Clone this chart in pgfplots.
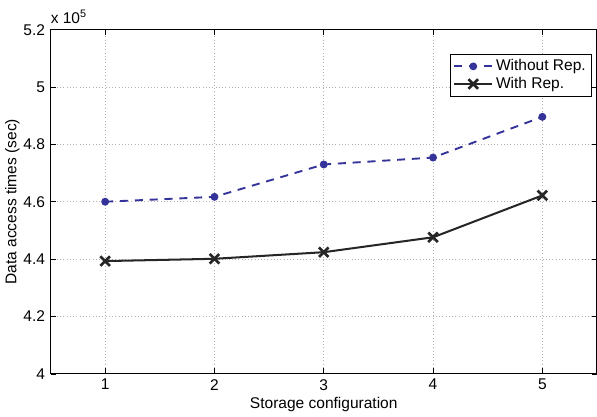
\documentclass[border=0pt]{standalone}
\usepackage{pgfplots}
\pgfplotsset{compat=1.18}
\usepackage{fontspec}
\setmainfont{Liberation Sans}
\definecolor{matblue}{RGB}{51,51,153}
\begin{document}
\fontsize{11.5}{13}\selectfont
\begin{tikzpicture}[trim axis right]
\begin{axis}[
    name=ax,
    scale only axis,
    width=405pt,
    height=255pt,
    xmin=0.5, xmax=5.5,
    ymin=4, ymax=5.2,
    xtick={1,2,3,4,5},
    ytick={4,4.2,4.4,4.6,4.8,5,5.2},
    yticklabels={4,4.2,4.4,4.6,4.8,5,5.2},
    tick align=inside,
    major tick length=4pt,
    tick style={black, thin},
    axis line style={black, line width=0.8pt},
    grid=major,
    major grid style={gray!60, dotted, line width=0.6pt},
    xlabel={Storage configuration},
    ylabel={Data access times (sec)},
    xlabel style={yshift=3pt},
    ylabel style={yshift=-5pt},
    /pgf/number format/assume math mode=true,
    legend style={
        at={(0.99,0.93)}, anchor=north east,
        draw=black, line width=0.6pt,
        font=\fontsize{11.5}{13}\selectfont,
        inner sep=2pt, row sep=-1pt,
        cells={anchor=west}
    },
    legend image code/.code={
        \draw[mark repeat=2, mark phase=2, #1]
            plot coordinates {(0cm,0cm) (0.5cm,0cm) (1.0cm,0cm)};
    },
    legend image post style={line width=1.3pt},
]
    % Without Rep.
    \addplot[matblue, dashed, dash pattern=on 6pt off 5pt, line width=1.4pt,
        mark=*, mark size=2.2pt, mark options={solid}] coordinates {
        (1, 4.600)
        (2, 4.617)
        (3, 4.730)
        (4, 4.754)
        (5, 4.896)
    };
    % With Rep.
    \addplot[black!85, solid, line width=1.5pt,
        mark=x, mark size=5pt, mark options={line width=2pt}] coordinates {
        (1, 4.393)
        (2, 4.401)
        (3, 4.424)
        (4, 4.476)
        (5, 4.622)
    };
    \legend{Without Rep., With Rep.}
\end{axis}
\node[anchor=south west, inner sep=0pt, font=\fontsize{11.5}{12}\selectfont]
    at ([xshift=0pt, yshift=4pt]ax.north west) {x 10\textsuperscript{5}};
\path ([yshift=22pt]ax.north west);
\end{tikzpicture}
\end{document}
